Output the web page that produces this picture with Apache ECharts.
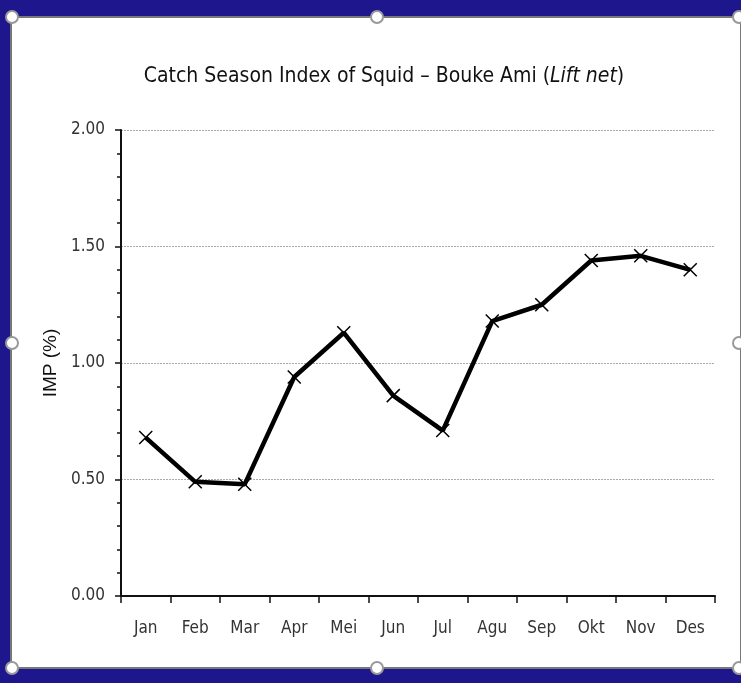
<!DOCTYPE html>
<html>
<head>
<meta charset="utf-8">
<script src="https://cdn.jsdelivr.net/npm/echarts@6/dist/echarts.min.js"></script>
<style>
    html, body { margin: 0; padding: 0; background: #1d168c; }
    #chart { width: 741px; height: 683px; }
</style>
</head>
<body>
<div id="chart"></div>
<script>
const months = ['Jan', 'Feb', 'Mar', 'Apr', 'Mei', 'Jun', 'Jul', 'Agu', 'Sep', 'Okt', 'Nov', 'Des'];
const impValues = [0.68, 0.49, 0.48, 0.94, 1.13, 0.86, 0.71, 1.18, 1.25, 1.44, 1.46, 1.40];
const yTicks = [0, 0.5, 1.0, 1.5, 2.0];

const FONT = "'DejaVu Sans Condensed', 'Open Sans', sans-serif";

window.onload = () => {
    let chart = echarts.init(document.getElementById('chart'));

    // little selection handles round the white slide frame
    let handle = (x, y) => ({
        type: 'circle',
        shape: { cx: x, cy: y, r: 6 },
        style: { fill: '#fff', stroke: '#999', lineWidth: 2 },
        z: 10
    });

    let option = {
        backgroundColor: '#1d168c',
        animation: false,
        graphic: [
            {
                type: 'rect',
                shape: { x: 11, y: 17, width: 730, height: 651 },
                style: { fill: '#fff', stroke: '#777', lineWidth: 2 },
                z: -10
            },
            handle(12, 17), handle(377, 17), handle(739, 17),
            handle(12, 343), handle(739, 343),
            handle(12, 668), handle(377, 668), handle(739, 668)
        ],
        title: {
            text: '{a|Catch Season Index of Squid – Bouke Ami (}{b|Lift net}{a|)}',
            left: 379,
            top: 61,
            textAlign: 'center',
            textStyle: {
                fontWeight: 'normal',
                rich: {
                    a: { fontFamily: FONT, fontSize: 21, color: '#111', fontWeight: 'normal' },
                    b: { fontFamily: FONT, fontSize: 21, color: '#111', fontWeight: 'normal', fontStyle: 'italic' }
                }
            }
        },
        grid: {
            left: 121,
            right: 26,
            top: 130,
            bottom: 87
        },
        xAxis: {
            type: 'category',
            data: months,
            boundaryGap: true,
            axisLine: { lineStyle: { color: '#111', width: 2 } },
            axisTick: { show: true, length: 7, lineStyle: { color: '#111', width: 1.5 } },
            axisLabel: { fontFamily: FONT, fontSize: 17, color: '#333', margin: 24 }
        },
        yAxis: {
            type: 'value',
            min: yTicks[0],
            max: yTicks[yTicks.length - 1],
            interval: 0.5,
            name: 'IMP (%)',
            nameLocation: 'middle',
            nameGap: 54,
            nameTextStyle: { fontFamily: "'Liberation Sans', sans-serif", fontSize: 19, color: '#111' },
            axisLine: { show: true, lineStyle: { color: '#111', width: 2 } },
            axisTick: { show: true, length: 6, lineStyle: { color: '#111', width: 1.5 } },
            minorTick: { show: true, splitNumber: 5, length: 4, lineStyle: { color: '#111', width: 1.5 } },
            axisLabel: {
                fontFamily: FONT, fontSize: 17, color: '#333', margin: 16,
                formatter: v => v.toFixed(2)
            },
            splitLine: { lineStyle: { color: '#aaa', type: [2, 1], width: 1 } }
        },
        series: [{
            type: 'line',
            data: impValues,
            symbol: 'path://M0,0L10,10M10,0L0,10',
            symbolSize: 13,
            itemStyle: { color: 'rgba(0,0,0,0)', borderColor: '#000', borderWidth: 1.5 },
            lineStyle: { color: '#000', width: 4.5 }
        }]
    };

    chart.setOption(option);
};
</script>
</body>
</html>
